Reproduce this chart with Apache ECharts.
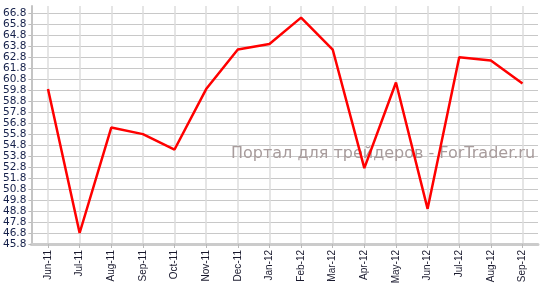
<!DOCTYPE html>
<html>
<head>
<meta charset="utf-8">
<script src="https://cdn.jsdelivr.net/npm/echarts@6/dist/echarts.min.js"></script>
<style>html,body{margin:0;padding:0;background:#fff}#c{width:547px;height:289px}</style>
</head>
<body>
<div id="c"></div>
<script>
const categories = ['Jun-11','Jul-11','Aug-11','Sep-11','Oct-11','Nov-11','Dec-11','Jan-12','Feb-12','Mar-12','Apr-12','May-12','Jun-12','Jul-12','Aug-12','Sep-12'];
const values = [59.9, 46.8, 56.4, 55.8, 54.4, 59.9, 63.5, 64.0, 66.4, 63.5, 52.7, 60.5, 49.0, 62.8, 62.5, 60.4];
const yMin = 45.8, yMax = 67.46, yStep = 1;
const watermark = 'Портал для трейдеров - ForTrader.ru';

const chart = echarts.init(document.getElementById('c'), null, {renderer: 'canvas'});
const gridPos = {top: 6, bottom: 45};
chart.setOption({
  animation: false,
  backgroundColor: '#fff',
  grid: [
    Object.assign({left: 30, right: 9}, gridPos),
    Object.assign({left: 48, right: 24.5}, gridPos)
  ],
  xAxis: [
    {gridIndex: 0, type: 'value', min: 0, max: 1,
     axisLine: {show: true, onZero: false, lineStyle: {color: '#cbcbcb', width: 3}},
     axisTick: {show: false}, axisLabel: {show: false}, splitLine: {show: false}},
    {gridIndex: 1, type: 'category', data: categories, boundaryGap: false,
     axisLine: {show: false},
     axisTick: {show: true, length: 4, lineStyle: {color: '#b8b8b8'}},
     axisLabel: {rotate: 90, margin: 6, fontFamily: 'Liberation Sans', fontSize: 10, color: '#1a1a2e', interval: 0},
     splitLine: {show: true, lineStyle: {color: '#dcdcdc', width: 1.5}}}
  ],
  yAxis: [
    {gridIndex: 0, type: 'value', min: yMin, max: yMax, interval: yStep,
     axisLine: {show: true, lineStyle: {color: '#c4c4c4', width: 2}},
     axisTick: {show: true, length: 3, lineStyle: {color: '#b8b8b8'}},
     axisLabel: {margin: 5, fontFamily: 'DejaVu Sans', fontSize: 10.5, color: '#15204a', showMaxLabel: false,
       formatter: v => (Math.abs(v - yMax) < 1e-6 ? '' : v.toFixed(1))},
     splitLine: {show: true, showMaxLine: false, lineStyle: {color: '#c8c8c8', width: 1}}},
    {gridIndex: 1, type: 'value', min: yMin, max: yMax, interval: yStep, show: false, splitLine: {show: false}}
  ],
  graphic: [{type: 'text', left: 231, top: 146, z: 1,
    style: {text: watermark, font: '16px "DejaVu Sans"', fill: '#a89c9c'}}],
  series: [{type: 'line', xAxisIndex: 1, yAxisIndex: 1, data: values, showSymbol: false, symbol: 'none',
    lineStyle: {color: '#ff0000', width: 2.5}, z: 5}]
});
</script>
</body>
</html>
